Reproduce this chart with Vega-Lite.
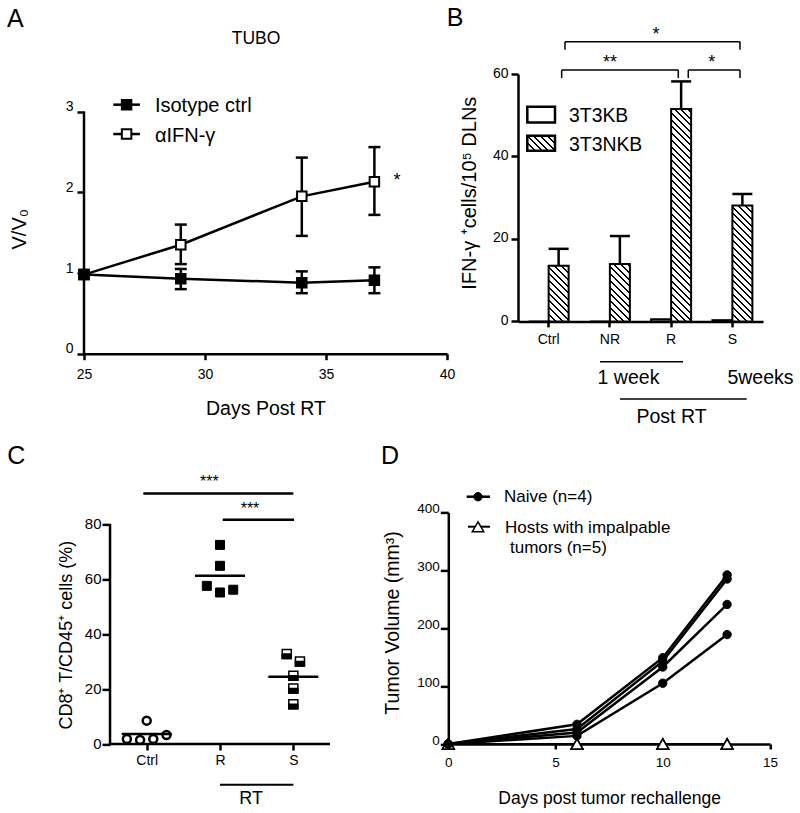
{
"$schema":"https://vega.github.io/schema/vega-lite/v6.json",
"background":"#ffffff",
"padding":{"left":7,"top":5,"right":5,"bottom":5},
"config":{"font":"Liberation Sans","view":{"stroke":null},
 "axis":{"grid":false,"domainColor":"#000","tickColor":"#000","labelColor":"#000","titleColor":"#000","domainWidth":2.5,"tickWidth":2.5,"labelFont":"Liberation Sans","labelFontSize":14,"titleFont":"Liberation Sans","titleFontWeight":"normal","labelFlush":false,"labelOverlap":false},
 "text":{"color":"#000"}},
"bounds":"flush",
"spacing":438.4,
"vconcat":[
{"bounds":"flush","spacing":71,"hconcat":[
{"width":363,"height":279.7,
 "data":{"values":[
  {"day":25,"group":"Isotype ctrl","v":0.98},
  {"day":29,"group":"Isotype ctrl","v":0.93,"lo":0.8,"hi":1.05},
  {"day":34,"group":"Isotype ctrl","v":0.88,"lo":0.75,"hi":1.02},
  {"day":37,"group":"Isotype ctrl","v":0.91,"lo":0.75,"hi":1.07},
  {"day":25,"group":"αIFN-γ","v":0.98},
  {"day":29,"group":"αIFN-γ","v":1.35,"lo":1.11,"hi":1.6},
  {"day":34,"group":"αIFN-γ","v":1.95,"lo":1.46,"hi":2.43},
  {"day":37,"group":"αIFN-γ","v":2.13,"lo":1.72,"hi":2.56}]},
 "layer":[
  {"mark":{"type":"line","color":"#000","strokeWidth":2.5},
   "encoding":{
    "x":{"field":"day","type":"quantitative","scale":{"domain":[25,40],"nice":false,"zero":false},
     "axis":{"title":"Days Post RT","values":[25,30,35,40],"format":"d","tickSize":6,"labelFontSize":14,"labelBaseline":"alphabetic","labelPadding":18.7,"titleFontSize":19.5,"titleBaseline":"alphabetic","titleX":181.5,"titleY":61}},
    "y":{"field":"v","type":"quantitative","scale":{"domain":[0,3.466],"nice":false},
     "axis":{"title":"V/V₀","values":[0,1,2,3],"format":"d","domain":false,"tickSize":7,"labelFontSize":14,"labelPadding":4,"labelBaseline":"alphabetic","labelOffset":-1,"titleFontSize":20,"titleBaseline":"alphabetic","titleX":-59,"titleY":154.7}},
    "detail":{"field":"group"}}},
  {"transform":[{"filter":"isValid(datum.lo)"}],"mark":{"type":"rule","color":"#000","strokeWidth":2.5},
   "encoding":{"x":{"field":"day","type":"quantitative"},"y":{"field":"lo","type":"quantitative"},"y2":{"field":"hi"}}},
  {"transform":[{"filter":"isValid(datum.lo)"}],"mark":{"type":"tick","orient":"horizontal","size":12,"thickness":2.5,"color":"#000","opacity":1},
   "encoding":{"x":{"field":"day","type":"quantitative"},"y":{"field":"lo","type":"quantitative"}}},
  {"transform":[{"filter":"isValid(datum.hi)"}],"mark":{"type":"tick","orient":"horizontal","size":12,"thickness":2.5,"color":"#000","opacity":1},
   "encoding":{"x":{"field":"day","type":"quantitative"},"y":{"field":"hi","type":"quantitative"}}},
  {"transform":[{"filter":"datum.group==='αIFN-γ'"}],"mark":{"type":"point","shape":"square","size":90,"filled":true,"fill":"#fff","stroke":"#000","strokeWidth":2,"opacity":1},
   "encoding":{"x":{"field":"day","type":"quantitative"},"y":{"field":"v","type":"quantitative"}}},
  {"transform":[{"filter":"datum.group==='Isotype ctrl'"}],"mark":{"type":"point","shape":"square","size":90,"filled":true,"fill":"#000","stroke":"#000","strokeWidth":2,"opacity":1},
   "encoding":{"x":{"field":"day","type":"quantitative"},"y":{"field":"v","type":"quantitative"}}},
  {"data":{"values":[{}]},"mark":{"type":"rule","color":"#000","strokeWidth":2.5},"encoding":{"x":{"datum":25},"y":{"datum":0},"y2":{"datum":3}}},
  {"data":{"values":[{}]},"mark":{"type":"text","text":"A","fontSize":25,"align":"left","baseline":"alphabetic"},"encoding":{"x":{"datum":21.82},"y":{"datum":4.052}}},
  {"data":{"values":[{}]},"mark":{"type":"text","text":"TUBO","fontSize":17.5,"align":"center","baseline":"alphabetic"},"encoding":{"x":{"datum":32.11},"y":{"datum":3.838}}},
  {"data":{"values":[{}]},"mark":{"type":"text","text":"*","fontSize":18,"align":"center","baseline":"alphabetic"},"encoding":{"x":{"datum":37.93},"y":{"datum":2.083}}},
  {"data":{"values":[{}]},"mark":{"type":"rule","color":"#000","strokeWidth":2.5},"encoding":{"x":{"datum":26.21},"x2":{"datum":27.31},"y":{"datum":3.086}}},
  {"data":{"values":[{}]},"mark":{"type":"rule","color":"#000","strokeWidth":2.5},"encoding":{"x":{"datum":26.21},"x2":{"datum":27.31},"y":{"datum":2.722}}},
  {"data":{"values":[{}]},"mark":{"type":"point","shape":"square","size":90,"filled":true,"fill":"#000","stroke":"#000","strokeWidth":2,"opacity":1},"encoding":{"x":{"datum":26.76},"y":{"datum":3.086}}},
  {"data":{"values":[{}]},"mark":{"type":"point","shape":"square","size":90,"filled":true,"fill":"#fff","stroke":"#000","strokeWidth":2,"opacity":1},"encoding":{"x":{"datum":26.76},"y":{"datum":2.722}}},
  {"data":{"values":[{}]},"mark":{"type":"text","text":"Isotype ctrl","fontSize":20,"align":"left","baseline":"alphabetic"},"encoding":{"x":{"datum":27.93},"y":{"datum":2.999}}},
  {"data":{"values":[{}]},"mark":{"type":"text","text":"αIFN-γ","fontSize":20,"align":"left","baseline":"alphabetic"},"encoding":{"x":{"datum":27.93},"y":{"datum":2.618}}}
 ]},
{"width":245,"height":247.4,
 "resolve":{"scale":{"x":"independent"}},
 "layer":[
  {"data":{"values":[
    {"cat":"Ctrl","cell":"3T3KB","v":0},
    {"cat":"NR","cell":"3T3KB","v":0},
    {"cat":"R","cell":"3T3KB","v":0.5},
    {"cat":"S","cell":"3T3KB","v":0.3},
    {"cat":"Ctrl","cell":"3T3NKB","v":13.5,"hi":17.6},
    {"cat":"NR","cell":"3T3NKB","v":13.9,"hi":20.7},
    {"cat":"R","cell":"3T3NKB","v":51.5,"hi":58.2},
    {"cat":"S","cell":"3T3NKB","v":28.1,"hi":30.9}]},
   "layer":[
    {"transform":[{"filter":"datum.cell==='3T3KB'"}],"mark":{"type":"bar","fill":"#fff","stroke":"#000","strokeWidth":2,"opacity":1},
     "encoding":{
      "x":{"field":"cat","type":"nominal","sort":null,"scale":{"domain":["Ctrl","NR","R","S"],"paddingInner":0.347,"paddingOuter":0.1735},
       "axis":{"title":null,"labelAngle":0,"tickSize":5.5,"labelFontSize":14,"labelBaseline":"alphabetic","labelPadding":16.5}},
      "xOffset":{"field":"cell","type":"nominal","scale":{"domain":["3T3KB","3T3NKB"],"paddingInner":0,"paddingOuter":0}},
      "y":{"field":"v","type":"quantitative","scale":{"domain":[0,60],"nice":false},
       "axis":{"title":"IFN-γ ⁺cells/10⁵ DLNs","values":[0,20,40,60],"tickSize":7,"labelFontSize":14,"labelPadding":3,"labelBaseline":"alphabetic","labelOffset":3,"titleFontSize":20,"titleBaseline":"alphabetic","titleX":-43,"titleY":118.7}}}},
    {"transform":[{"filter":"datum.cell==='3T3NKB' && datum.cat==='Ctrl'"}],
     "mark":{"type":"bar","stroke":"#000","strokeWidth":2,"opacity":1,"fill":{"gradient":"linear","x1":0,"y1":1,"x2":0.443,"y2":-0.233,"stops":[{"offset":0,"color":"#000"},{"offset":0.0258,"color":"#000"},{"offset":0.0258,"color":"#fff"},{"offset":0.0865,"color":"#fff"},{"offset":0.0865,"color":"#000"},{"offset":0.1123,"color":"#000"},{"offset":0.1123,"color":"#fff"},{"offset":0.1729,"color":"#fff"},{"offset":0.1729,"color":"#000"},{"offset":0.1987,"color":"#000"},{"offset":0.1987,"color":"#fff"},{"offset":0.2594,"color":"#fff"},{"offset":0.2594,"color":"#000"},{"offset":0.2852,"color":"#000"},{"offset":0.2852,"color":"#fff"},{"offset":0.3458,"color":"#fff"},{"offset":0.3458,"color":"#000"},{"offset":0.3716,"color":"#000"},{"offset":0.3716,"color":"#fff"},{"offset":0.4323,"color":"#fff"},{"offset":0.4323,"color":"#000"},{"offset":0.4581,"color":"#000"},{"offset":0.4581,"color":"#fff"},{"offset":0.5187,"color":"#fff"},{"offset":0.5187,"color":"#000"},{"offset":0.5445,"color":"#000"},{"offset":0.5445,"color":"#fff"},{"offset":0.6052,"color":"#fff"},{"offset":0.6052,"color":"#000"},{"offset":0.631,"color":"#000"},{"offset":0.631,"color":"#fff"},{"offset":0.6916,"color":"#fff"},{"offset":0.6916,"color":"#000"},{"offset":0.7174,"color":"#000"},{"offset":0.7174,"color":"#fff"},{"offset":0.7781,"color":"#fff"},{"offset":0.7781,"color":"#000"},{"offset":0.8039,"color":"#000"},{"offset":0.8039,"color":"#fff"},{"offset":0.8645,"color":"#fff"},{"offset":0.8645,"color":"#000"},{"offset":0.8903,"color":"#000"},{"offset":0.8903,"color":"#fff"},{"offset":0.951,"color":"#fff"},{"offset":0.951,"color":"#000"},{"offset":0.9768,"color":"#000"},{"offset":0.9768,"color":"#fff"},{"offset":1,"color":"#fff"}]}},
     "encoding":{"x":{"field":"cat","type":"nominal"},"xOffset":{"field":"cell","type":"nominal"},"y":{"field":"v","type":"quantitative"}}},
    {"transform":[{"filter":"datum.cell==='3T3NKB' && datum.cat==='NR'"}],
     "mark":{"type":"bar","stroke":"#000","strokeWidth":2,"opacity":1,"fill":{"gradient":"linear","x1":0,"y1":1,"x2":0.4207,"y2":-0.2055,"stops":[{"offset":0,"color":"#000"},{"offset":0.0258,"color":"#000"},{"offset":0.0258,"color":"#fff"},{"offset":0.0865,"color":"#fff"},{"offset":0.0865,"color":"#000"},{"offset":0.1123,"color":"#000"},{"offset":0.1123,"color":"#fff"},{"offset":0.1729,"color":"#fff"},{"offset":0.1729,"color":"#000"},{"offset":0.1987,"color":"#000"},{"offset":0.1987,"color":"#fff"},{"offset":0.2594,"color":"#fff"},{"offset":0.2594,"color":"#000"},{"offset":0.2852,"color":"#000"},{"offset":0.2852,"color":"#fff"},{"offset":0.3458,"color":"#fff"},{"offset":0.3458,"color":"#000"},{"offset":0.3716,"color":"#000"},{"offset":0.3716,"color":"#fff"},{"offset":0.4323,"color":"#fff"},{"offset":0.4323,"color":"#000"},{"offset":0.4581,"color":"#000"},{"offset":0.4581,"color":"#fff"},{"offset":0.5187,"color":"#fff"},{"offset":0.5187,"color":"#000"},{"offset":0.5445,"color":"#000"},{"offset":0.5445,"color":"#fff"},{"offset":0.6052,"color":"#fff"},{"offset":0.6052,"color":"#000"},{"offset":0.631,"color":"#000"},{"offset":0.631,"color":"#fff"},{"offset":0.6916,"color":"#fff"},{"offset":0.6916,"color":"#000"},{"offset":0.7174,"color":"#000"},{"offset":0.7174,"color":"#fff"},{"offset":0.7781,"color":"#fff"},{"offset":0.7781,"color":"#000"},{"offset":0.8039,"color":"#000"},{"offset":0.8039,"color":"#fff"},{"offset":0.8645,"color":"#fff"},{"offset":0.8645,"color":"#000"},{"offset":0.8903,"color":"#000"},{"offset":0.8903,"color":"#fff"},{"offset":0.951,"color":"#fff"},{"offset":0.951,"color":"#000"},{"offset":0.9768,"color":"#000"},{"offset":0.9768,"color":"#fff"},{"offset":1,"color":"#fff"}]}},
     "encoding":{"x":{"field":"cat","type":"nominal"},"xOffset":{"field":"cell","type":"nominal"},"y":{"field":"v","type":"quantitative"}}},
    {"transform":[{"filter":"datum.cell==='3T3NKB' && datum.cat==='R'"}],
     "mark":{"type":"bar","stroke":"#000","strokeWidth":2,"opacity":1,"fill":{"gradient":"linear","x1":0,"y1":1,"x2":0.1024,"y2":-0.0876,"stops":[{"offset":0,"color":"#000"},{"offset":0.0086,"color":"#000"},{"offset":0.0086,"color":"#fff"},{"offset":0.0288,"color":"#fff"},{"offset":0.0288,"color":"#000"},{"offset":0.0373,"color":"#000"},{"offset":0.0373,"color":"#fff"},{"offset":0.0575,"color":"#fff"},{"offset":0.0575,"color":"#000"},{"offset":0.0661,"color":"#000"},{"offset":0.0661,"color":"#fff"},{"offset":0.0863,"color":"#fff"},{"offset":0.0863,"color":"#000"},{"offset":0.0949,"color":"#000"},{"offset":0.0949,"color":"#fff"},{"offset":0.115,"color":"#fff"},{"offset":0.115,"color":"#000"},{"offset":0.1236,"color":"#000"},{"offset":0.1236,"color":"#fff"},{"offset":0.1438,"color":"#fff"},{"offset":0.1438,"color":"#000"},{"offset":0.1524,"color":"#000"},{"offset":0.1524,"color":"#fff"},{"offset":0.1725,"color":"#fff"},{"offset":0.1725,"color":"#000"},{"offset":0.1811,"color":"#000"},{"offset":0.1811,"color":"#fff"},{"offset":0.2013,"color":"#fff"},{"offset":0.2013,"color":"#000"},{"offset":0.2099,"color":"#000"},{"offset":0.2099,"color":"#fff"},{"offset":0.23,"color":"#fff"},{"offset":0.23,"color":"#000"},{"offset":0.2386,"color":"#000"},{"offset":0.2386,"color":"#fff"},{"offset":0.2588,"color":"#fff"},{"offset":0.2588,"color":"#000"},{"offset":0.2674,"color":"#000"},{"offset":0.2674,"color":"#fff"},{"offset":0.2876,"color":"#fff"},{"offset":0.2876,"color":"#000"},{"offset":0.2961,"color":"#000"},{"offset":0.2961,"color":"#fff"},{"offset":0.3163,"color":"#fff"},{"offset":0.3163,"color":"#000"},{"offset":0.3249,"color":"#000"},{"offset":0.3249,"color":"#fff"},{"offset":0.3451,"color":"#fff"},{"offset":0.3451,"color":"#000"},{"offset":0.3537,"color":"#000"},{"offset":0.3537,"color":"#fff"},{"offset":0.3738,"color":"#fff"},{"offset":0.3738,"color":"#000"},{"offset":0.3824,"color":"#000"},{"offset":0.3824,"color":"#fff"},{"offset":0.4026,"color":"#fff"},{"offset":0.4026,"color":"#000"},{"offset":0.4112,"color":"#000"},{"offset":0.4112,"color":"#fff"},{"offset":0.4313,"color":"#fff"},{"offset":0.4313,"color":"#000"},{"offset":0.4399,"color":"#000"},{"offset":0.4399,"color":"#fff"},{"offset":0.4601,"color":"#fff"},{"offset":0.4601,"color":"#000"},{"offset":0.4687,"color":"#000"},{"offset":0.4687,"color":"#fff"},{"offset":0.4888,"color":"#fff"},{"offset":0.4888,"color":"#000"},{"offset":0.4974,"color":"#000"},{"offset":0.4974,"color":"#fff"},{"offset":0.5176,"color":"#fff"},{"offset":0.5176,"color":"#000"},{"offset":0.5262,"color":"#000"},{"offset":0.5262,"color":"#fff"},{"offset":0.5463,"color":"#fff"},{"offset":0.5463,"color":"#000"},{"offset":0.5549,"color":"#000"},{"offset":0.5549,"color":"#fff"},{"offset":0.5751,"color":"#fff"},{"offset":0.5751,"color":"#000"},{"offset":0.5837,"color":"#000"},{"offset":0.5837,"color":"#fff"},{"offset":0.6039,"color":"#fff"},{"offset":0.6039,"color":"#000"},{"offset":0.6124,"color":"#000"},{"offset":0.6124,"color":"#fff"},{"offset":0.6326,"color":"#fff"},{"offset":0.6326,"color":"#000"},{"offset":0.6412,"color":"#000"},{"offset":0.6412,"color":"#fff"},{"offset":0.6614,"color":"#fff"},{"offset":0.6614,"color":"#000"},{"offset":0.67,"color":"#000"},{"offset":0.67,"color":"#fff"},{"offset":0.6901,"color":"#fff"},{"offset":0.6901,"color":"#000"},{"offset":0.6987,"color":"#000"},{"offset":0.6987,"color":"#fff"},{"offset":0.7189,"color":"#fff"},{"offset":0.7189,"color":"#000"},{"offset":0.7275,"color":"#000"},{"offset":0.7275,"color":"#fff"},{"offset":0.7476,"color":"#fff"},{"offset":0.7476,"color":"#000"},{"offset":0.7562,"color":"#000"},{"offset":0.7562,"color":"#fff"},{"offset":0.7764,"color":"#fff"},{"offset":0.7764,"color":"#000"},{"offset":0.785,"color":"#000"},{"offset":0.785,"color":"#fff"},{"offset":0.8051,"color":"#fff"},{"offset":0.8051,"color":"#000"},{"offset":0.8137,"color":"#000"},{"offset":0.8137,"color":"#fff"},{"offset":0.8339,"color":"#fff"},{"offset":0.8339,"color":"#000"},{"offset":0.8425,"color":"#000"},{"offset":0.8425,"color":"#fff"},{"offset":0.8627,"color":"#fff"},{"offset":0.8627,"color":"#000"},{"offset":0.8712,"color":"#000"},{"offset":0.8712,"color":"#fff"},{"offset":0.8914,"color":"#fff"},{"offset":0.8914,"color":"#000"},{"offset":0.9,"color":"#000"},{"offset":0.9,"color":"#fff"},{"offset":0.9202,"color":"#fff"},{"offset":0.9202,"color":"#000"},{"offset":0.9288,"color":"#000"},{"offset":0.9288,"color":"#fff"},{"offset":0.9489,"color":"#fff"},{"offset":0.9489,"color":"#000"},{"offset":0.9575,"color":"#000"},{"offset":0.9575,"color":"#fff"},{"offset":0.9777,"color":"#fff"},{"offset":0.9777,"color":"#000"},{"offset":0.9863,"color":"#000"},{"offset":0.9863,"color":"#fff"},{"offset":1,"color":"#fff"}]}},
     "encoding":{"x":{"field":"cat","type":"nominal"},"xOffset":{"field":"cell","type":"nominal"},"y":{"field":"v","type":"quantitative"}}},
    {"transform":[{"filter":"datum.cell==='3T3NKB' && datum.cat==='S'"}],
     "mark":{"type":"bar","stroke":"#000","strokeWidth":2,"opacity":1,"fill":{"gradient":"linear","x1":0,"y1":1,"x2":0.1967,"y2":-0.1398,"stops":[{"offset":0,"color":"#000"},{"offset":0.0147,"color":"#000"},{"offset":0.0147,"color":"#fff"},{"offset":0.0493,"color":"#fff"},{"offset":0.0493,"color":"#000"},{"offset":0.064,"color":"#000"},{"offset":0.064,"color":"#fff"},{"offset":0.0985,"color":"#fff"},{"offset":0.0985,"color":"#000"},{"offset":0.1132,"color":"#000"},{"offset":0.1132,"color":"#fff"},{"offset":0.1478,"color":"#fff"},{"offset":0.1478,"color":"#000"},{"offset":0.1625,"color":"#000"},{"offset":0.1625,"color":"#fff"},{"offset":0.1971,"color":"#fff"},{"offset":0.1971,"color":"#000"},{"offset":0.2118,"color":"#000"},{"offset":0.2118,"color":"#fff"},{"offset":0.2463,"color":"#fff"},{"offset":0.2463,"color":"#000"},{"offset":0.261,"color":"#000"},{"offset":0.261,"color":"#fff"},{"offset":0.2956,"color":"#fff"},{"offset":0.2956,"color":"#000"},{"offset":0.3103,"color":"#000"},{"offset":0.3103,"color":"#fff"},{"offset":0.3449,"color":"#fff"},{"offset":0.3449,"color":"#000"},{"offset":0.3596,"color":"#000"},{"offset":0.3596,"color":"#fff"},{"offset":0.3941,"color":"#fff"},{"offset":0.3941,"color":"#000"},{"offset":0.4088,"color":"#000"},{"offset":0.4088,"color":"#fff"},{"offset":0.4434,"color":"#fff"},{"offset":0.4434,"color":"#000"},{"offset":0.4581,"color":"#000"},{"offset":0.4581,"color":"#fff"},{"offset":0.4926,"color":"#fff"},{"offset":0.4926,"color":"#000"},{"offset":0.5073,"color":"#000"},{"offset":0.5073,"color":"#fff"},{"offset":0.5419,"color":"#fff"},{"offset":0.5419,"color":"#000"},{"offset":0.5566,"color":"#000"},{"offset":0.5566,"color":"#fff"},{"offset":0.5912,"color":"#fff"},{"offset":0.5912,"color":"#000"},{"offset":0.6059,"color":"#000"},{"offset":0.6059,"color":"#fff"},{"offset":0.6404,"color":"#fff"},{"offset":0.6404,"color":"#000"},{"offset":0.6551,"color":"#000"},{"offset":0.6551,"color":"#fff"},{"offset":0.6897,"color":"#fff"},{"offset":0.6897,"color":"#000"},{"offset":0.7044,"color":"#000"},{"offset":0.7044,"color":"#fff"},{"offset":0.739,"color":"#fff"},{"offset":0.739,"color":"#000"},{"offset":0.7537,"color":"#000"},{"offset":0.7537,"color":"#fff"},{"offset":0.7882,"color":"#fff"},{"offset":0.7882,"color":"#000"},{"offset":0.8029,"color":"#000"},{"offset":0.8029,"color":"#fff"},{"offset":0.8375,"color":"#fff"},{"offset":0.8375,"color":"#000"},{"offset":0.8522,"color":"#000"},{"offset":0.8522,"color":"#fff"},{"offset":0.8868,"color":"#fff"},{"offset":0.8868,"color":"#000"},{"offset":0.9015,"color":"#000"},{"offset":0.9015,"color":"#fff"},{"offset":0.936,"color":"#fff"},{"offset":0.936,"color":"#000"},{"offset":0.9507,"color":"#000"},{"offset":0.9507,"color":"#fff"},{"offset":0.9853,"color":"#fff"},{"offset":0.9853,"color":"#000"},{"offset":1,"color":"#000"}]}},
     "encoding":{"x":{"field":"cat","type":"nominal"},"xOffset":{"field":"cell","type":"nominal"},"y":{"field":"v","type":"quantitative"}}},
    {"transform":[{"filter":"isValid(datum.hi)"}],"mark":{"type":"rule","color":"#000","strokeWidth":2.5},
     "encoding":{"x":{"field":"cat","type":"nominal"},"xOffset":{"field":"cell","type":"nominal"},"y":{"field":"v","type":"quantitative"},"y2":{"field":"hi"}}},
    {"transform":[{"filter":"isValid(datum.hi)"}],"mark":{"type":"tick","orient":"horizontal","size":20,"thickness":2.5,"color":"#000","opacity":1},
     "encoding":{"x":{"field":"cat","type":"nominal"},"xOffset":{"field":"cell","type":"nominal"},"y":{"field":"hi","type":"quantitative"}}}
   ]},
  {"layer":[
    {"data":{"values":[{}]},"mark":{"type":"text","text":"B","fontSize":25,"align":"left","baseline":"alphabetic"},"encoding":{"x":{"datum":-0.664,"scale":{"domain":[0.5,4.5],"nice":false,"zero":false},"axis":null},"y":{"datum":71.71}}},
    {"data":{"values":[{}]},"mark":{"type":"text","text":"**","fontSize":18,"align":"center","baseline":"alphabetic"},"encoding":{"x":{"datum":2.002,"axis":null},"y":{"datum":61.43}}},
    {"data":{"values":[{}]},"mark":{"type":"text","text":"*","fontSize":18,"align":"center","baseline":"alphabetic"},"encoding":{"x":{"datum":3.662,"axis":null},"y":{"datum":61.43}}},
    {"data":{"values":[{}]},"mark":{"type":"text","text":"*","fontSize":18,"align":"center","baseline":"alphabetic"},"encoding":{"x":{"datum":2.753,"axis":null},"y":{"datum":68.22}}},
    {"data":{"values":[{}]},"mark":{"type":"rule","color":"#000","strokeWidth":1.5},"encoding":{"x":{"datum":1.213,"axis":null},"x2":{"datum":3.117},"y":{"datum":60.97}}},
    {"data":{"values":[{}]},"mark":{"type":"rule","color":"#000","strokeWidth":1.5},"encoding":{"x":{"datum":1.213,"axis":null},"y":{"datum":60.97},"y2":{"datum":59.03}}},
    {"data":{"values":[{}]},"mark":{"type":"rule","color":"#000","strokeWidth":1.5},"encoding":{"x":{"datum":3.117,"axis":null},"y":{"datum":60.97},"y2":{"datum":59.03}}},
    {"data":{"values":[{}]},"mark":{"type":"rule","color":"#000","strokeWidth":1.5},"encoding":{"x":{"datum":3.28,"axis":null},"x2":{"datum":4.124},"y":{"datum":60.97}}},
    {"data":{"values":[{}]},"mark":{"type":"rule","color":"#000","strokeWidth":1.5},"encoding":{"x":{"datum":3.28,"axis":null},"y":{"datum":60.97},"y2":{"datum":59.03}}},
    {"data":{"values":[{}]},"mark":{"type":"rule","color":"#000","strokeWidth":1.5},"encoding":{"x":{"datum":4.124,"axis":null},"y":{"datum":60.97},"y2":{"datum":59.03}}},
    {"data":{"values":[{}]},"mark":{"type":"rule","color":"#000","strokeWidth":1.5},"encoding":{"x":{"datum":1.267,"axis":null},"x2":{"datum":4.124},"y":{"datum":67.84}}},
    {"data":{"values":[{}]},"mark":{"type":"rule","color":"#000","strokeWidth":1.5},"encoding":{"x":{"datum":1.267,"axis":null},"y":{"datum":67.84},"y2":{"datum":65.9}}},
    {"data":{"values":[{}]},"mark":{"type":"rule","color":"#000","strokeWidth":1.5},"encoding":{"x":{"datum":4.124,"axis":null},"y":{"datum":67.84},"y2":{"datum":65.9}}},
    {"data":{"values":[{}]},"mark":{"type":"rect","fill":"#fff","stroke":"#000","strokeWidth":2.5},"encoding":{"x":{"datum":0.652,"axis":null},"x2":{"datum":1.104},"y":{"datum":52.07},"y2":{"datum":48.26}}},
    {"data":{"values":[{}]},"mark":{"type":"rect","stroke":"#000","strokeWidth":2.5,"fill":{"gradient":"linear","x1":0,"y1":1,"x2":2.1634,"y2":-0.1715,"stops":[{"offset":0,"color":"#000"},{"offset":0.0258,"color":"#000"},{"offset":0.0258,"color":"#fff"},{"offset":0.0865,"color":"#fff"},{"offset":0.0865,"color":"#000"},{"offset":0.1123,"color":"#000"},{"offset":0.1123,"color":"#fff"},{"offset":0.1729,"color":"#fff"},{"offset":0.1729,"color":"#000"},{"offset":0.1987,"color":"#000"},{"offset":0.1987,"color":"#fff"},{"offset":0.2594,"color":"#fff"},{"offset":0.2594,"color":"#000"},{"offset":0.2852,"color":"#000"},{"offset":0.2852,"color":"#fff"},{"offset":0.3458,"color":"#fff"},{"offset":0.3458,"color":"#000"},{"offset":0.3716,"color":"#000"},{"offset":0.3716,"color":"#fff"},{"offset":0.4323,"color":"#fff"},{"offset":0.4323,"color":"#000"},{"offset":0.4581,"color":"#000"},{"offset":0.4581,"color":"#fff"},{"offset":0.5187,"color":"#fff"},{"offset":0.5187,"color":"#000"},{"offset":0.5445,"color":"#000"},{"offset":0.5445,"color":"#fff"},{"offset":1,"color":"#fff"}]}},"encoding":{"x":{"datum":0.652,"axis":null},"x2":{"datum":1.104},"y":{"datum":45.04},"y2":{"datum":41.4}}},
    {"data":{"values":[{}]},"mark":{"type":"text","text":"3T3KB","fontSize":19.4,"align":"left","baseline":"alphabetic"},"encoding":{"x":{"datum":1.333,"axis":null},"y":{"datum":48.26}}},
    {"data":{"values":[{}]},"mark":{"type":"text","text":"3T3NKB","fontSize":19.4,"align":"left","baseline":"alphabetic"},"encoding":{"x":{"datum":1.333,"axis":null},"y":{"datum":41.23}}},
    {"data":{"values":[{}]},"mark":{"type":"rule","color":"#000","strokeWidth":1.5},"encoding":{"x":{"datum":1.839,"axis":null},"x2":{"datum":3.194},"y":{"datum":-9.77}}},
    {"data":{"values":[{}]},"mark":{"type":"rule","color":"#000","strokeWidth":1.5},"encoding":{"x":{"datum":2.165,"axis":null},"x2":{"datum":4.234},"y":{"datum":-18.82}}},
    {"data":{"values":[{}]},"mark":{"type":"text","text":"1 week","fontSize":19.5,"align":"center","baseline":"alphabetic"},"encoding":{"x":{"datum":2.304,"axis":null},"y":{"datum":-15.18}}},
    {"data":{"values":[{}]},"mark":{"type":"text","text":"5weeks","fontSize":19.5,"align":"center","baseline":"alphabetic"},"encoding":{"x":{"datum":4.459,"axis":null},"y":{"datum":-15.18}}},
    {"data":{"values":[{}]},"mark":{"type":"text","text":"Post RT","fontSize":19.5,"align":"center","baseline":"alphabetic"},"encoding":{"x":{"datum":3.006,"axis":null},"y":{"datum":-24.57}}}
  ]}
 ]}
]},
{"bounds":"flush","spacing":118.3,"hconcat":[
{"width":246,"height":231.6,
 "data":{"values":[
  {"grp":"Ctrl","pos":0.73,"v":1.8},{"grp":"Ctrl","pos":0.91,"v":1.5},{"grp":"Ctrl","pos":1.09,"v":1.8},{"grp":"Ctrl","pos":1.27,"v":3.3},{"grp":"Ctrl","pos":1.0,"v":8.5},
  {"grp":"R","pos":2.0,"v":72.4},{"grp":"R","pos":2.0,"v":64.8},{"grp":"R","pos":1.82,"v":57.5},{"grp":"R","pos":2.0,"v":55.1},{"grp":"R","pos":2.18,"v":56.1},
  {"grp":"S","pos":2.91,"v":32.7},{"grp":"S","pos":3.09,"v":30.0},{"grp":"S","pos":3.0,"v":24.8},{"grp":"S","pos":3.0,"v":20.2},{"grp":"S","pos":3.0,"v":14.5}]},
 "layer":[
  {"transform":[{"filter":"datum.grp==='Ctrl'"}],"mark":{"type":"point","shape":"circle","size":64,"filled":true,"fill":"#fff","stroke":"#000","strokeWidth":2.5,"opacity":1},
   "encoding":{
    "x":{"field":"pos","type":"quantitative","scale":{"domain":[0.145,3.5],"nice":false,"zero":false},
     "axis":{"title":null,"values":[1,2,3],"labelExpr":"datum.value==1?'Ctrl':(datum.value==2?'R':'S')","domain":false,"tickSize":6,"labelFontSize":14,"labelBaseline":"alphabetic","labelPadding":14.7}},
    "y":{"field":"v","type":"quantitative","scale":{"domain":[0,84.22],"nice":false},
     "axis":{"title":"CD8⁺ T/CD45⁺ cells (%)","offset":-26,"values":[0,20,40,60,80],"domain":false,"tickSize":8,"labelFontSize":15,"labelPadding":1,"labelBaseline":"alphabetic","labelOffset":4.5,"titleFontSize":18,"titleBaseline":"alphabetic","titleX":-39,"titleY":122.3}}}},
  {"data":{"values":[{}]},"mark":{"type":"rule","color":"#000","strokeWidth":2.5},"encoding":{"x":{"datum":0.5},"x2":{"datum":3.5},"y":{"datum":0}}},
  {"data":{"values":[{}]},"mark":{"type":"rule","color":"#000","strokeWidth":2.5},"encoding":{"x":{"datum":0.5},"y":{"datum":0},"y2":{"datum":80}}},
  {"transform":[{"filter":"datum.grp==='R'"}],"mark":{"type":"point","shape":"square","size":81,"filled":true,"fill":"#000","stroke":"#000","strokeWidth":1,"opacity":1},
   "encoding":{"x":{"field":"pos","type":"quantitative"},"y":{"field":"v","type":"quantitative"}}},
  {"transform":[{"filter":"datum.grp==='S'"}],"mark":{"type":"point","shape":"square","size":81,"filled":true,"fill":"#fff","stroke":"#000","strokeWidth":1.5,"opacity":1},
   "encoding":{"x":{"field":"pos","type":"quantitative"},"y":{"field":"v","type":"quantitative"}}},
  {"transform":[{"filter":"datum.grp==='S'"}],"mark":{"type":"point","shape":"M-1,0H1V1H-1Z","size":81,"filled":true,"fill":"#000","stroke":"#000","strokeWidth":1.5,"opacity":1},
   "encoding":{"x":{"field":"pos","type":"quantitative"},"y":{"field":"v","type":"quantitative"}}},
  {"data":{"values":[{"pos":1,"mean":3.6},{"pos":2,"mean":61.2},{"pos":3,"mean":24.5}]},"mark":{"type":"tick","orient":"horizontal","size":50,"thickness":2.5,"color":"#000","opacity":1},
   "encoding":{"x":{"field":"pos","type":"quantitative"},"y":{"field":"mean","type":"quantitative"}}},
  {"data":{"values":[{}]},"mark":{"type":"rule","color":"#000","strokeWidth":2.5},"encoding":{"x":{"datum":0.954},"x2":{"datum":3.0},"y":{"datum":91.13}}},
  {"data":{"values":[{}]},"mark":{"type":"rule","color":"#000","strokeWidth":2.5},"encoding":{"x":{"datum":2.037},"x2":{"datum":3.01},"y":{"datum":81.56}}},
  {"data":{"values":[{}]},"mark":{"type":"text","text":"***","fontSize":16,"align":"center","baseline":"alphabetic"},"encoding":{"x":{"datum":1.854},"y":{"datum":93.5}}},
  {"data":{"values":[{}]},"mark":{"type":"text","text":"***","fontSize":16,"align":"center","baseline":"alphabetic"},"encoding":{"x":{"datum":2.409},"y":{"datum":83.67}}},
  {"data":{"values":[{}]},"mark":{"type":"rule","color":"#000","strokeWidth":2},"encoding":{"x":{"datum":2.0},"x2":{"datum":3.0},"y":{"datum":-14.8}}},
  {"data":{"values":[{}]},"mark":{"type":"text","text":"RT","fontSize":18,"align":"center","baseline":"alphabetic"},"encoding":{"x":{"datum":2.423},"y":{"datum":-21.82}}},
  {"data":{"values":[{}]},"mark":{"type":"text","text":"C","fontSize":25,"align":"left","baseline":"alphabetic"},"encoding":{"x":{"datum":-0.902},"y":{"datum":101.8}}}
 ]},
{"width":321.7,"height":231.6,
 "data":{"values":[
  {"grp":"Naive","mouse":"n1","day":0,"vol":0},{"grp":"Naive","mouse":"n1","day":6,"vol":34},{"grp":"Naive","mouse":"n1","day":10,"vol":149},{"grp":"Naive","mouse":"n1","day":13,"vol":292},
  {"grp":"Naive","mouse":"n2","day":0,"vol":0},{"grp":"Naive","mouse":"n2","day":6,"vol":26},{"grp":"Naive","mouse":"n2","day":10,"vol":143},{"grp":"Naive","mouse":"n2","day":13,"vol":285},
  {"grp":"Naive","mouse":"n3","day":0,"vol":0},{"grp":"Naive","mouse":"n3","day":6,"vol":20},{"grp":"Naive","mouse":"n3","day":10,"vol":133},{"grp":"Naive","mouse":"n3","day":13,"vol":241},
  {"grp":"Naive","mouse":"n4","day":0,"vol":0},{"grp":"Naive","mouse":"n4","day":6,"vol":14},{"grp":"Naive","mouse":"n4","day":10,"vol":105},{"grp":"Naive","mouse":"n4","day":13,"vol":189},
  {"grp":"Hosts","mouse":"h1","day":0,"vol":0},{"grp":"Hosts","mouse":"h1","day":6,"vol":0},{"grp":"Hosts","mouse":"h1","day":10,"vol":0},{"grp":"Hosts","mouse":"h1","day":13,"vol":0},
  {"grp":"Hosts","mouse":"h2","day":0,"vol":0},{"grp":"Hosts","mouse":"h2","day":6,"vol":0},{"grp":"Hosts","mouse":"h2","day":10,"vol":0},{"grp":"Hosts","mouse":"h2","day":13,"vol":0},
  {"grp":"Hosts","mouse":"h3","day":0,"vol":0},{"grp":"Hosts","mouse":"h3","day":6,"vol":0},{"grp":"Hosts","mouse":"h3","day":10,"vol":0},{"grp":"Hosts","mouse":"h3","day":13,"vol":0},
  {"grp":"Hosts","mouse":"h4","day":0,"vol":0},{"grp":"Hosts","mouse":"h4","day":6,"vol":0},{"grp":"Hosts","mouse":"h4","day":10,"vol":0},{"grp":"Hosts","mouse":"h4","day":13,"vol":0},
  {"grp":"Hosts","mouse":"h5","day":0,"vol":0},{"grp":"Hosts","mouse":"h5","day":6,"vol":0},{"grp":"Hosts","mouse":"h5","day":10,"vol":0},{"grp":"Hosts","mouse":"h5","day":13,"vol":0}]},
 "layer":[
  {"transform":[{"filter":"datum.grp==='Naive'"}],"mark":{"type":"line","color":"#000","strokeWidth":2.5},
   "encoding":{
    "x":{"field":"day","type":"quantitative","scale":{"domain":[0,15],"nice":false},
     "axis":{"title":"Days post tumor rechallenge","values":[0,5,10,15],"tickSize":5,"labelFontSize":13.5,"labelBaseline":"alphabetic","labelPadding":17.7,"titleFontSize":17.5,"titleBaseline":"alphabetic","titleX":160.85,"titleY":59}},
    "y":{"field":"vol","type":"quantitative","scale":{"domain":[0,400],"nice":false},
     "axis":{"title":"Tumor Volume (mm³)","values":[0,100,200,300,400],"tickSize":8,"labelFontSize":13.5,"labelPadding":1,"labelBaseline":"alphabetic","titleFontSize":19.5,"titleBaseline":"alphabetic","titleX":-50.3,"titleY":110}},
    "detail":{"field":"mouse"}}},
  {"transform":[{"filter":"datum.grp==='Hosts'"}],"mark":{"type":"line","color":"#000","strokeWidth":2},
   "encoding":{"x":{"field":"day","type":"quantitative"},"y":{"field":"vol","type":"quantitative"},"detail":{"field":"mouse"}}},
  {"transform":[{"filter":"datum.grp==='Hosts'"}],"mark":{"type":"point","shape":"triangle-up","size":130,"filled":true,"fill":"#fff","stroke":"#000","strokeWidth":1.5,"opacity":1},
   "encoding":{"x":{"field":"day","type":"quantitative"},"y":{"field":"vol","type":"quantitative"}}},
  {"transform":[{"filter":"datum.grp==='Naive'"}],"mark":{"type":"point","shape":"circle","size":70,"filled":true,"fill":"#000","stroke":"#000","strokeWidth":1,"opacity":1},
   "encoding":{"x":{"field":"day","type":"quantitative"},"y":{"field":"vol","type":"quantitative"}}},
  {"data":{"values":[{}]},"mark":{"type":"rule","color":"#000","strokeWidth":2.5},"encoding":{"x":{"datum":0.858},"x2":{"datum":1.944},"y":{"datum":427.1}}},
  {"data":{"values":[{}]},"mark":{"type":"point","shape":"circle","size":70,"filled":true,"fill":"#000","stroke":"#000","strokeWidth":1,"opacity":1},"encoding":{"x":{"datum":1.385},"y":{"datum":427.1}}},
  {"data":{"values":[{}]},"mark":{"type":"rule","color":"#000","strokeWidth":2},"encoding":{"x":{"datum":0.914},"x2":{"datum":1.944},"y":{"datum":375.3}}},
  {"data":{"values":[{}]},"mark":{"type":"point","shape":"triangle-up","size":130,"filled":true,"fill":"#fff","stroke":"#000","strokeWidth":1.5,"opacity":1},"encoding":{"x":{"datum":1.385},"y":{"datum":375.3}}},
  {"data":{"values":[{}]},"mark":{"type":"text","text":"Naive (n=4)","fontSize":17,"align":"left","baseline":"alphabetic"},"encoding":{"x":{"datum":2.597},"y":{"datum":417.3}}},
  {"data":{"values":[{}]},"mark":{"type":"text","text":"Hosts with impalpable","fontSize":17,"align":"left","baseline":"alphabetic"},"encoding":{"x":{"datum":2.643},"y":{"datum":363.7}}},
  {"data":{"values":[{}]},"mark":{"type":"text","text":"tumors (n=5)","fontSize":17,"align":"left","baseline":"alphabetic"},"encoding":{"x":{"datum":2.876},"y":{"datum":329.2}}},
  {"data":{"values":[{}]},"mark":{"type":"text","text":"D","fontSize":25,"align":"left","baseline":"alphabetic"},"encoding":{"x":{"datum":-3.138},"y":{"datum":483.6}}}
 ]}
]}
]
}
